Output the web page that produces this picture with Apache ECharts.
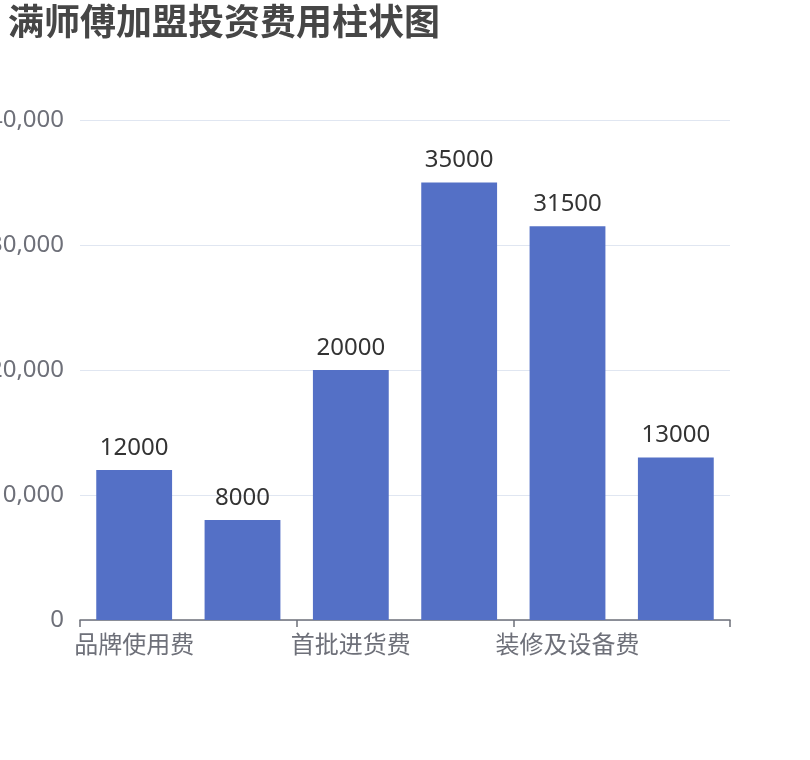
<!DOCTYPE html>
<html>
<head>
    <meta charset="utf-8">
    <title>满师傅加盟投资费用柱状图</title>
    <script src="https://cdn.jsdelivr.net/npm/echarts@6/dist/echarts.min.js"></script>
    <style>
        html, body { margin: 0; padding: 0; background: #fff; }
        #main { width: 810px; height: 760px; }
    </style>
</head>
<body>
<div id="main"></div>
<script type="text/javascript">
    // 费用项目（第2、4、6项标签在原图中被隐藏，名称为推测）
    var categories = ['品牌使用费', '加盟保证金', '首批进货费', '店铺租金', '装修及设备费', '流动资金'];
    // 金额（元）
    var amounts = [12000, 8000, 20000, 35000, 31500, 13000];
    // 纵轴刻度
    var yMin = 0, yMax = 40000, yStep = 10000;

    var myChart = echarts.init(document.getElementById('main'));

    var option = {
        textStyle: { fontFamily: '"Noto Sans", "Noto Sans CJK SC", sans-serif' },
        title: {
            text: '满师傅加盟投资费用柱状图',
            left: 3,
            top: 2,
            textStyle: { fontSize: 36, fontWeight: 'bold', color: '#464646' }
        },
        // 原图的纵轴标签超出左边界被裁掉，这里不让网格自动避让
        grid: { left: 80, right: 80, top: 120, bottom: 140, outerBoundsMode: 'none', containLabel: false },
        xAxis: {
            type: 'category',
            data: categories,
            axisTick: { show: true, interval: 1, alignWithLabel: false, length: 7, lineStyle: { color: '#6E7079', width: 1.5 } },
            axisLabel: { interval: 1, fontSize: 24, color: '#6E7079', margin: 14 },
            axisLine: { lineStyle: { color: '#6E7079', width: 1.5 } }
        },
        yAxis: {
            type: 'value',
            min: yMin,
            max: yMax,
            interval: yStep,
            axisLabel: { fontSize: 24, color: '#6E7079', margin: 16 },
            splitLine: { lineStyle: { color: '#E0E6F1' } }
        },
        series: [{
            type: 'bar',
            data: amounts,
            barCategoryGap: '30%',
            itemStyle: { color: '#5470C6' },
            label: {
                show: true,
                position: 'top',
                distance: 10,
                fontSize: 24,
                color: '#333'
            }
        }]
    };
    myChart.setOption(option);
</script>
</body>
</html>
